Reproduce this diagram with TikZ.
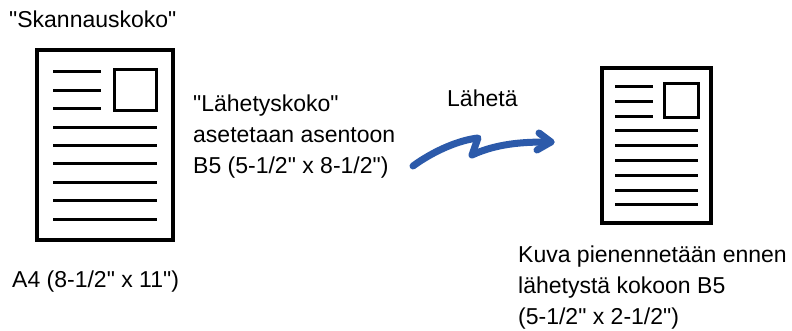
\documentclass[tikz,border=0pt]{standalone}
\usepackage{fontspec}
\newfontfamily\labelfont{Liberation Sans}
\definecolor{arrowblue}{RGB}{44,90,170}
\begin{document}
\begin{tikzpicture}[x=1pt,y=-1pt,
  txt/.style={anchor=base west,inner sep=0pt,font=\labelfont\fontsize{23}{27}\selectfont},
  pageframe/.style={draw=black,line width=3.2pt},
  textline/.style={draw=black,line width=3pt},
  picbox/.style={draw=black,line width=3pt}]
\useasboundingbox (0,0) rectangle (792,331);
% left page
\node[pageframe,minimum width=136pt,minimum height=190pt,inner sep=0pt] (lp) at (105,145) {};
\node[picbox,minimum width=42pt,minimum height=41pt,inner sep=0pt] (lbox) at (135,90.5) {};
\foreach \y in {72,91,109}{\draw[textline] (53,\y) -- (101,\y);}
\foreach \y in {128,146,164,183,201,219}{\draw[textline] (53,\y) -- (157,\y);}
% right page
\node[pageframe,minimum width=109pt,minimum height=155pt,inner sep=0pt] (rp) at (656.5,145.5) {};
\node[picbox,minimum width=34pt,minimum height=34pt,inner sep=0pt] (rbox) at (681,101) {};
\foreach \y in {87,102,117}{\draw[textline] (615,\y) -- (653,\y);}
\foreach \y in {131,146,161,176,191,205}{\draw[textline] (615,\y) -- (698,\y);}
% texts
\node[txt] (t1) at (9,28) {"Skannauskoko"};
\node[txt] (t2a) at (193,112) {"Lähetyskoko"};
\node[txt] (t2b) at (193,143) {asetetaan asentoon};
\node[txt] (t2c) at (193,174) {B5 (5-1/2" x 8-1/2")};
\node[txt] (t3) at (447,107) {Lähetä};
\node[txt] (t4) at (12,287) {A4 (8-1/2" x 11")};
\node[txt] (t5a) at (518,262) {Kuva pienennetään ennen};
\node[txt] (t5b) at (518,293) {lähetystä kokoon B5};
\node[txt] (t5c) at (518,324) {(5-1/2" x 2-1/2")};
% arrow
\coordinate (as) at (413,166);
\coordinate (ap) at (478,138);
\coordinate (av) at (472,155);
\coordinate (at) at (551,142);
\draw[arrowblue,line width=7pt,line cap=round,line join=round]
  (as) .. controls (435,150) and (460,140) .. (ap) -- (av)
  .. controls (500,142) and (530,142) .. (at);
\draw[arrowblue,line width=7pt,line cap=round,line join=round]
  (539,133) -- (at) -- (537,150);
\end{tikzpicture}
\end{document}
